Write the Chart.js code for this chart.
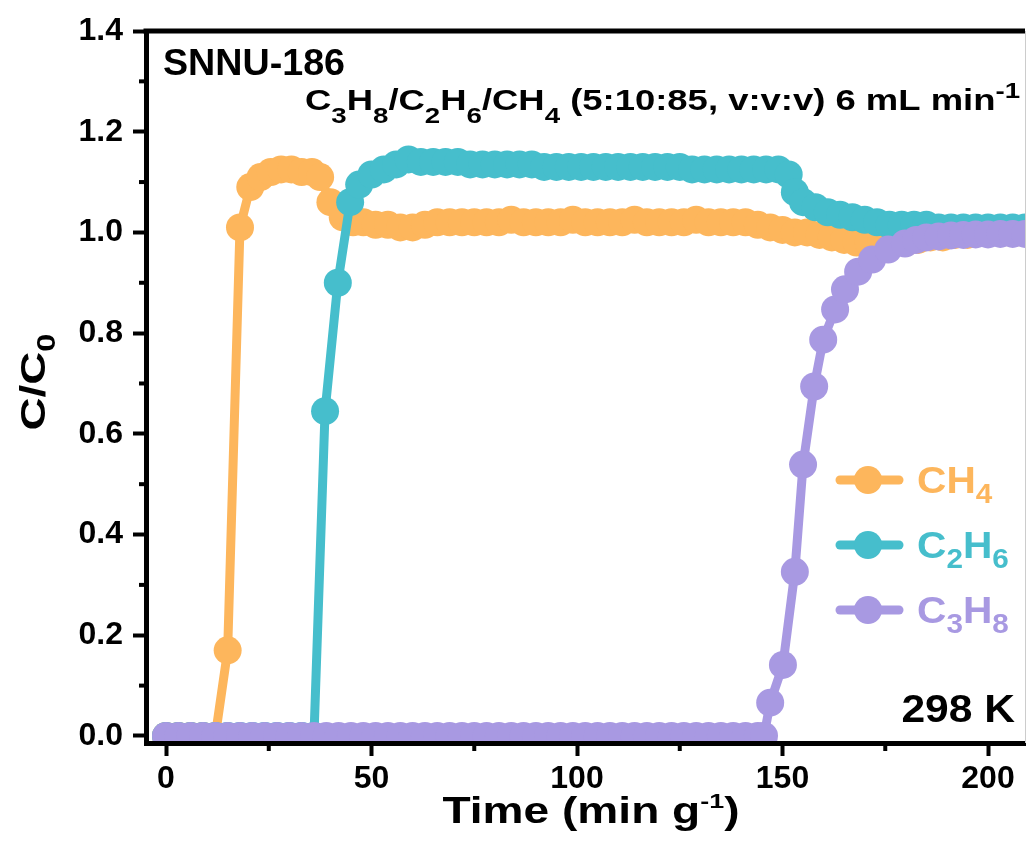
<!DOCTYPE html>
<html>
<head>
<meta charset="utf-8">
<title>SNNU-186 breakthrough</title>
<script src="https://cdn.jsdelivr.net/npm/chart.js@4.4.1/dist/chart.umd.min.js"></script>
<style>
  body { margin: 0; background: #fff; }
  canvas { display: block; }
</style>
</head>
<body>
<canvas id="chart" width="1027" height="866"></canvas>
<script>
// Time (min g-1) and C/C0 values
const ch4Time = [0, 3, 6, 9, 12, 15, 18, 20.5, 23, 25.5, 28, 30.5, 33, 35.5, 37.5, 40, 43, 45.5,
  48, 51, 54, 57, 60, 63, 66, 69, 72, 75,
  78, 81, 84, 87, 90, 93, 96, 99, 102, 105, 108, 111, 114, 117, 120, 123, 126, 129, 132, 135, 138, 141,
  144, 147, 150, 153, 156, 159, 162, 165, 168, 171, 174, 177, 180,
  183, 186, 189, 192, 195, 198, 201, 204, 207, 210];
const ch4Ratio = [0, 0, 0, 0, 0, 0.17, 1.01, 1.09, 1.11, 1.12, 1.125, 1.125, 1.12, 1.12, 1.11, 1.06, 1.03, 1.02,
  1.02, 1.015, 1.015, 1.01, 1.01, 1.015, 1.02, 1.02, 1.02, 1.02,
  1.02, 1.02, 1.025, 1.02, 1.02, 1.02, 1.02, 1.025, 1.02, 1.02, 1.02, 1.02, 1.025, 1.02, 1.02, 1.02, 1.02, 1.025, 1.02, 1.02, 1.02, 1.02,
  1.015, 1.01, 1.005, 1.0, 1.0, 0.995, 0.99, 0.985, 0.98, 0.98, 0.98, 0.98, 0.98,
  0.985, 0.99, 0.99, 0.995, 0.995, 1.0, 1.0, 1.0, 1.0, 1.0];

const c2h6Time = [0, 3, 6, 9, 12, 15, 18, 21, 24, 27, 30, 33, 36, 38.7, 41.8, 44.8, 47, 50, 53, 56, 59,
  62, 65, 68, 71, 74, 77, 80, 83, 86, 89, 92, 95, 98, 101, 104, 107, 110, 113, 116, 119, 122, 125,
  128, 131, 134, 137, 140, 143, 146, 149, 151.5, 153, 155,
  158, 161, 164, 167, 170, 173, 176, 179, 182, 185, 188, 191, 194, 197, 200, 203, 206, 209];
const c2h6Ratio = [0, 0, 0, 0, 0, 0, 0, 0, 0, 0, 0, 0, 0, 0.645, 0.90, 1.06, 1.095, 1.115, 1.125, 1.135, 1.145,
  1.14, 1.14, 1.14, 1.14, 1.135, 1.135, 1.135, 1.135, 1.135, 1.135, 1.13, 1.13, 1.13, 1.13, 1.13, 1.13, 1.13, 1.13, 1.13, 1.13, 1.13, 1.13,
  1.125, 1.125, 1.125, 1.125, 1.125, 1.125, 1.125, 1.125, 1.115, 1.08, 1.06,
  1.05, 1.04, 1.035, 1.03, 1.025, 1.02, 1.015, 1.015, 1.015, 1.015, 1.01, 1.01, 1.01, 1.01, 1.01, 1.01, 1.01, 1.01];

const c3h8Time = [0, 3, 6, 9, 12, 15, 18, 21, 24, 27, 30, 33, 36, 39, 42, 45, 48, 51, 54, 57, 60, 63, 66, 69, 72,
  75, 78, 81, 84, 87, 90, 93, 96, 99, 102, 105, 108, 111, 114, 117, 120, 123, 126, 129, 132, 135, 138, 141, 144, 145.5,
  147, 150.1, 153, 155, 157.7, 159.9, 162.8, 165.2, 168.4, 171.8, 175.7, 179.8,
  182.5, 185, 188, 191, 194, 197, 200, 203, 206, 209];
const c3h8Ratio = [0, 0, 0, 0, 0, 0, 0, 0, 0, 0, 0, 0, 0, 0, 0, 0, 0, 0, 0, 0, 0, 0, 0, 0, 0,
  0, 0, 0, 0, 0, 0, 0, 0, 0, 0, 0, 0, 0, 0, 0, 0, 0, 0, 0, 0, 0, 0, 0, 0, 0,
  0.066, 0.141, 0.326, 0.539, 0.694, 0.787, 0.847, 0.887, 0.922, 0.946, 0.966, 0.978,
  0.985, 0.99, 0.992, 0.994, 0.995, 0.996, 0.996, 0.997, 0.997, 0.997];

const xTicks = [0, 50, 100, 150, 200];
const xMinorTicks = [25, 75, 125, 175];
const yTicks = [0, 0.2, 0.4, 0.6, 0.8, 1.0, 1.2, 1.4];
const yMinorTicks = [0.1, 0.3, 0.5, 0.7, 0.9, 1.1, 1.3];

// legend texts: [text, 'sub' | 'sup' | '']
const ch4Label = [['CH', ''], ['4', 'sub']];
const c2h6Label = [['C', ''], ['2', 'sub'], ['H', ''], ['6', 'sub']];
const c3h8Label = [['C', ''], ['3', 'sub'], ['H', ''], ['8', 'sub']];
const gasLabel = [['C', ''], ['3', 'sub'], ['H', ''], ['8', 'sub'], ['/C', ''], ['2', 'sub'], ['H', ''], ['6', 'sub'],
  ['/CH', ''], ['4', 'sub'], [' (5:10:85, v:v:v) 6 mL min', ''], ['-1', 'sup']];
const xTitle = [['Time (min g', ''], ['-1', 'sup'], [')', '']];
const yTitle = [['C/C', ''], ['0', 'sub']];

const orange = 'rgb(253, 182, 92)';
const cyan = 'rgb(70, 190, 204)';
const purple = 'rgb(168, 153, 226)';
const FAMILY = "'Liberation Sans', Arial, sans-serif";

function toPoints(xs, ys) {
  return xs.map((x, i) => ({ x: x, y: ys[i] }));
}

// text with sub/superscripts, optionally stretched to a target width
function drawRich(ctx, parts, x, y, o) {
  const fontFor = k => 'bold ' + (k ? o.small : o.size) + 'px ' + FAMILY;
  let w = 0;
  parts.forEach(([t, k]) => { ctx.font = fontFor(k); w += ctx.measureText(t).width; });
  const sx = o.width ? o.width / w : (o.sx || 1);
  ctx.save();
  ctx.translate(x, y);
  if (o.rotate) ctx.rotate(o.rotate);
  ctx.scale(sx, 1);
  let cx = o.align === 'right' ? -w : (o.align === 'center' ? -w / 2 : 0);
  ctx.fillStyle = o.color || '#000';
  ctx.textAlign = 'left';
  ctx.textBaseline = 'alphabetic';
  parts.forEach(([t, k]) => {
    ctx.font = fontFor(k);
    const dy = k === 'sub' ? o.subDy : (k === 'sup' ? o.supDy : 0);
    ctx.fillText(t, cx, dy);
    cx += ctx.measureText(t).width;
  });
  ctx.restore();
}

const decorations = {
  id: 'decorations',
  afterDraw(chart) {
    const ctx = chart.ctx;
    const area = chart.chartArea;
    const xs = chart.scales.x;
    const ys = chart.scales.y;

    ctx.save();
    ctx.strokeStyle = '#000';
    // top frame
    ctx.lineWidth = 5;
    ctx.beginPath();
    ctx.moveTo(area.left - 2.5, area.top);
    ctx.lineTo(area.right, area.top);
    ctx.stroke();
    // thin right edge
    ctx.lineWidth = 1;
    ctx.strokeStyle = '#ccc';
    ctx.beginPath();
    ctx.moveTo(area.right + 0.5, area.top);
    ctx.lineTo(area.right + 0.5, area.bottom);
    ctx.stroke();
    // minor ticks
    ctx.strokeStyle = '#000';
    ctx.lineWidth = 4;
    xMinorTicks.forEach(v => {
      const px = xs.getPixelForValue(v);
      ctx.beginPath();
      ctx.moveTo(px, area.bottom);
      ctx.lineTo(px, area.bottom + 8);
      ctx.stroke();
    });
    yMinorTicks.forEach(v => {
      const py = ys.getPixelForValue(v);
      ctx.beginPath();
      ctx.moveTo(area.left, py);
      ctx.lineTo(area.left - 7, py);
      ctx.stroke();
    });
    ctx.restore();

    // annotations
    drawRich(ctx, [['SNNU-186', '']], 163, 75, { size: 37, small: 24, width: 182 });
    drawRich(ctx, gasLabel, 305, 110, { size: 29, small: 22, subDy: 13, supDy: -12, width: 715 });
    drawRich(ctx, [['298 K', '']], 1015, 722, { size: 38, small: 24, sx: 1.12, align: 'right' });

    // axis titles
    drawRich(ctx, xTitle, 591, 823, { size: 36, small: 21, supDy: -15, width: 297, align: 'center' });
    drawRich(ctx, yTitle, 45, 382, { size: 35, small: 25, subDy: 10, width: 97, align: 'center', rotate: -Math.PI / 2 });

    // legend
    const rows = [[ch4Label, orange, 480], [c2h6Label, cyan, 545], [c3h8Label, purple, 610]];
    rows.forEach(([label, color, cy]) => {
      ctx.save();
      ctx.strokeStyle = color;
      ctx.fillStyle = color;
      ctx.lineWidth = 9;
      ctx.lineCap = 'round';
      ctx.beginPath();
      ctx.moveTo(840, cy);
      ctx.lineTo(899, cy);
      ctx.stroke();
      ctx.beginPath();
      ctx.arc(868, cy, 14, 0, Math.PI * 2);
      ctx.fill();
      ctx.restore();
      drawRich(ctx, label, 917, cy + 13, { size: 37, small: 27, subDy: 10, sx: 1.1, color: color });
    });
  }
};

const tickFont = { family: FAMILY, size: 32, weight: 'bold' };
const lineStyle = {
  borderWidth: 9,
  pointRadius: 14,
  pointHoverRadius: 14,
  pointBorderWidth: 0,
  tension: 0,
  clip: { left: 20, top: 20, right: 0, bottom: 0 }
};

new Chart(document.getElementById('chart'), {
  type: 'line',
  data: {
    datasets: [
      Object.assign({ label: 'CH4', data: toPoints(ch4Time, ch4Ratio), borderColor: orange, backgroundColor: orange, pointBackgroundColor: orange, order: 3 }, lineStyle),
      Object.assign({ label: 'C2H6', data: toPoints(c2h6Time, c2h6Ratio), borderColor: cyan, backgroundColor: cyan, pointBackgroundColor: cyan, order: 2 }, lineStyle),
      Object.assign({ label: 'C3H8', data: toPoints(c3h8Time, c3h8Ratio), borderColor: purple, backgroundColor: purple, pointBackgroundColor: purple, order: 1 }, lineStyle)
    ]
  },
  options: {
    responsive: false,
    animation: false,
    devicePixelRatio: 1,
    events: [],
    layout: { autoPadding: false, padding: { left: 0, right: 2, top: 31, bottom: 0 } },
    plugins: { legend: { display: false }, tooltip: { enabled: false } },
    scales: {
      x: {
        type: 'linear',
        min: -4.87,
        max: 209,
        afterFit: s => { s.height = 123; s.paddingLeft = 0; s.paddingRight = 0; },
        afterBuildTicks: s => { s.ticks = xTicks.map(v => ({ value: v })); },
        ticks: { font: tickFont, color: '#000', padding: 4, maxRotation: 0, autoSkip: false, callback: v => String(v) },
        grid: { display: true, drawOnChartArea: false, drawTicks: true, tickLength: 13, tickWidth: 4, tickColor: '#000', z: 1 },
        border: { display: true, color: '#000', width: 5, z: 1 }
      },
      y: {
        type: 'linear',
        min: -0.014,
        max: 1.4,
        afterFit: s => { s.width = 146; s.paddingTop = 0; s.paddingBottom = 0; },
        afterBuildTicks: s => { s.ticks = yTicks.map(v => ({ value: v })); },
        ticks: { font: tickFont, color: '#000', padding: 10, autoSkip: false, callback: v => v.toFixed(1) },
        grid: { display: true, drawOnChartArea: false, drawTicks: true, tickLength: 13, tickWidth: 4, tickColor: '#000', z: 1 },
        border: { display: true, color: '#000', width: 5, z: 1 }
      }
    }
  },
  plugins: [decorations]
});
</script>
</body>
</html>
